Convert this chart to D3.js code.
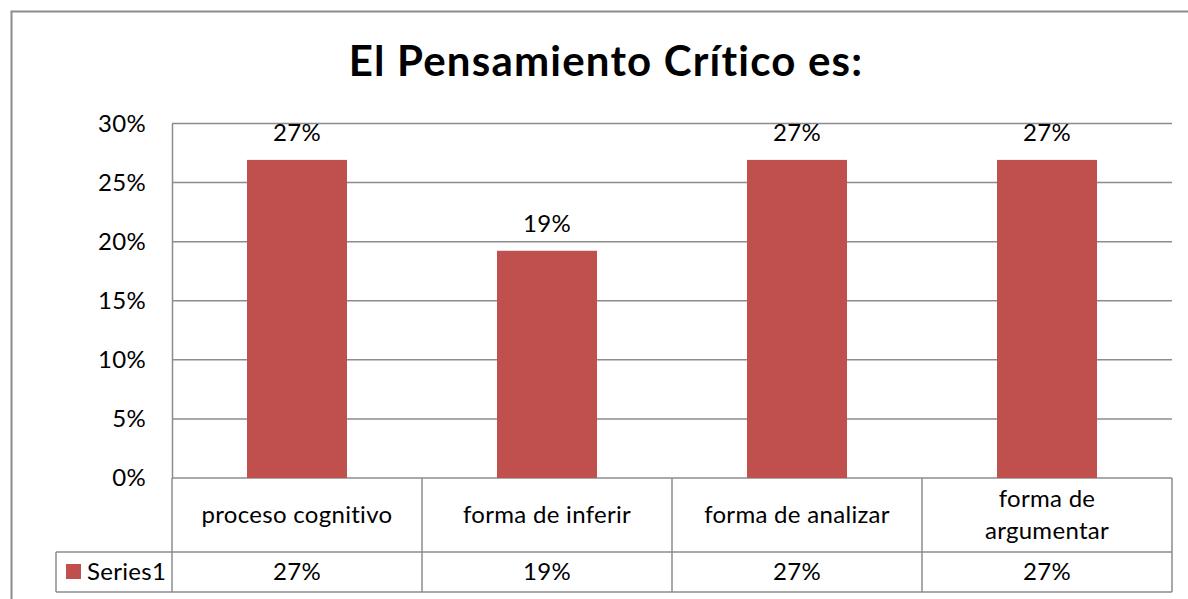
<!DOCTYPE html>
<html><head><meta charset="utf-8">
<script src="https://cdn.jsdelivr.net/npm/d3@7"></script>
<style>
html,body{margin:0;padding:0;background:#fff;}
svg{display:block;}
text{font-family:Lato, sans-serif;fill:#000;letter-spacing:0.3px;}
</style></head>
<body>
<svg id="chart" width="1188" height="599"></svg>
<script>
const title = "El Pensamiento Crítico es:";
const categories = ["proceso cognitivo", "forma de inferir", "forma de analizar", "forma de\nargumentar"];
const seriesName = "Series1";
const values = [0.2692, 0.1923, 0.2692, 0.2692];
const yTicks = [0, 0.05, 0.10, 0.15, 0.20, 0.25, 0.30];

const svg = d3.select("#chart");
const grid = "#8c8c8c";
const barColor = "#C0504D";
const fmt = d3.format(".0%");
const fs = 24;

const plot = {left: 172, right: 1172, top: 123.5, bottom: 478};
const rowCat = 552, rowSer = 592, legendLeft = 56;

// outer border
svg.append("rect").attr("x", 11.5).attr("y", 11.5).attr("width", 1200).attr("height", 620)
  .attr("fill", "#fff").attr("stroke", grid).attr("stroke-width", 2);

// title
svg.append("text").attr("x", 606).attr("y", 76).attr("text-anchor", "middle")
  .attr("font-size", 42).attr("font-weight", "bold").style("letter-spacing", "1.2px").text(title);

const x = d3.scaleBand().domain(categories).range([plot.left, plot.right]).padding(0);
const y = d3.scaleLinear().domain([0, 0.3]).range([plot.bottom, plot.top]);

// gridlines
svg.append("g").selectAll("line").data(yTicks).join("line")
  .attr("x1", plot.left).attr("x2", plot.right)
  .attr("y1", d => y(d)).attr("y2", d => y(d))
  .attr("stroke", grid).attr("stroke-width", 1.5);

// y axis
const yAxis = svg.append("g").attr("transform", `translate(${plot.left},0)`)
  .call(d3.axisLeft(y).tickValues(yTicks).tickFormat(fmt).tickSize(0).tickPadding(26));
yAxis.select(".domain").attr("stroke", grid).attr("stroke-width", 1.5);
yAxis.selectAll("text").attr("font-size", fs).attr("font-family", "Lato, sans-serif").attr("fill", "#000");

// bars
const bw = x.bandwidth() * 0.4;
svg.append("g").selectAll("rect").data(values).join("rect")
  .attr("x", (d, i) => x(categories[i]) + (x.bandwidth() - bw) / 2)
  .attr("y", d => y(d)).attr("width", bw).attr("height", d => y(0) - y(d))
  .attr("fill", barColor);

// data labels
svg.append("g").selectAll("text").data(values).join("text")
  .attr("x", (d, i) => x(categories[i]) + x.bandwidth() / 2)
  .attr("y", d => y(d) - 27).attr("dy", "0.35em").attr("text-anchor", "middle")
  .attr("font-size", fs).text(d => fmt(d));

// data table
const tg = svg.append("g").attr("stroke", grid).attr("stroke-width", 1.5);
tg.append("line").attr("x1", plot.left).attr("x2", plot.right).attr("y1", rowCat).attr("y2", rowCat);
tg.append("line").attr("x1", legendLeft).attr("x2", plot.left).attr("y1", rowCat).attr("y2", rowCat);
tg.append("line").attr("x1", legendLeft).attr("x2", plot.right).attr("y1", rowSer).attr("y2", rowSer);
tg.append("line").attr("x1", legendLeft).attr("x2", legendLeft).attr("y1", rowCat).attr("y2", rowSer);
const vx = categories.map(c => x(c)).concat([x(categories[categories.length - 1]) + x.bandwidth()]);
tg.selectAll("line.v").data(vx).join("line").attr("class", "v")
  .attr("x1", d => d).attr("x2", d => d).attr("y1", plot.bottom).attr("y2", rowSer);

// category labels
const catG = svg.append("g").selectAll("text").data(categories).join("text")
  .attr("text-anchor", "middle").attr("font-size", fs)
  .attr("x", d => x(d) + x.bandwidth() / 2);
catG.each(function(d) {
  const lines = d.split("\n");
  const lh = 32;
  const cy = (plot.bottom + rowCat) / 2;
  const t = d3.select(this);
  lines.forEach((ln, i) => {
    t.append("tspan").attr("x", x(d) + x.bandwidth() / 2)
      .attr("y", cy + (i - (lines.length - 1) / 2) * lh).attr("dy", "0.35em").text(ln);
  });
});

// series value row
svg.append("g").selectAll("text").data(values).join("text")
  .attr("x", (d, i) => x(categories[i]) + x.bandwidth() / 2)
  .attr("y", (rowCat + rowSer) / 2).attr("dy", "0.35em").attr("text-anchor", "middle")
  .attr("font-size", fs).text(d => fmt(d));

// legend key
svg.append("rect").attr("x", 66).attr("y", 564).attr("width", 15).attr("height", 15).attr("fill", barColor);
svg.append("text").attr("x", 87).attr("y", (rowCat + rowSer) / 2).attr("dy", "0.35em")
  .attr("font-size", fs).text(seriesName);
</script>
</body></html>
